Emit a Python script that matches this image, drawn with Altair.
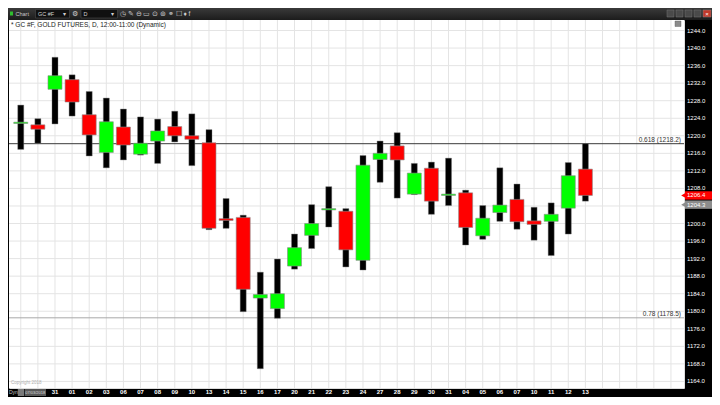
import altair as alt
import pandas as pd
import numpy as np

# ---------------- data ----------------
dates = ["27", "30", "31", "01", "02", "03", "06", "07", "08", "09", "10", "13",
         "14", "15", "16", "17", "20", "21", "22", "23", "24", "27", "28", "29",
         "30", "31", "04", "05", "06", "07", "10", "11", "12", "13"]
opens = [1222.8, 1222.5, 1230.6, 1232.8, 1224.8, 1216.2, 1222.0, 1215.8, 1218.8, 1222.1,
         1220.0, 1218.4, 1201.1, 1201.4, 1183.0, 1180.6, 1190.3, 1197.3, 1203.1, 1202.8,
         1191.6, 1214.6, 1217.7, 1206.7, 1212.6, 1206.4, 1207.0, 1197.2, 1202.5, 1205.5,
         1200.6, 1200.5, 1203.5, 1212.4]
highs = [1227.0, 1223.9, 1237.9, 1233.9, 1230.1, 1228.6, 1226.1, 1224.3, 1223.8, 1225.6,
         1225.0, 1221.4, 1205.7, 1201.9, 1188.9, 1191.9, 1197.6, 1204.3, 1208.4, 1203.4,
         1215.5, 1218.8, 1220.7, 1213.7, 1214.0, 1214.9, 1207.6, 1204.1, 1212.7, 1209.0,
         1203.7, 1204.7, 1213.9, 1218.2]
lows = [1216.9, 1218.3, 1222.7, 1224.5, 1215.4, 1212.7, 1214.5, 1215.6, 1213.7, 1218.6,
        1213.2, 1198.6, 1198.9, 1179.9, 1166.9, 1178.4, 1189.6, 1194.3, 1199.2, 1190.1,
        1189.4, 1209.4, 1205.8, 1206.6, 1202.1, 1204.1, 1195.1, 1196.4, 1200.5, 1198.7,
        1196.2, 1192.7, 1197.6, 1205.1]
closes = [1223.1, 1221.5, 1233.7, 1227.7, 1220.2, 1223.2, 1217.9, 1218.3, 1221.1, 1220.0,
          1219.2, 1198.9, 1200.7, 1185.0, 1183.8, 1184.0, 1194.5, 1200.0, 1203.4, 1194.0,
          1213.3, 1216.0, 1214.5, 1211.5, 1205.1, 1206.7, 1199.1, 1201.2, 1204.2, 1200.4,
          1199.8, 1202.1, 1210.9, 1206.4]

grid_steps = list(range(0, 39))
price_ticks = list(range(1164, 1245, 4))
price_tick_labels = [f"{p:.1f}" for p in price_ticks]
fib_levels = [1218.2, 1178.5]
fib_labels = ["0.618 (1218.2)", "0.78 (1178.5)"]
fib_colors = ["#3a3a3a", "#a8a8a8"]
tag_prices = [1204.3, 1206.4]
tag_texts = ["1204.3", "1206.4"]
tag_fills = ["#8c8c8c", "#ff0000"]
title_text = "* GC #F, GOLD FUTURES, D, 12:00-11:00 (Dynamic)"

W, H = 675, 368
FONT = "Liberation Sans"

df = pd.DataFrame({"i": range(len(dates)), "date": dates, "open": opens,
                   "high": highs, "low": lows, "close": closes})
df["dir"] = np.where(df["close"] >= df["open"], "up", "down")

xs = alt.Scale(domain=[-0.395, 38.47], nice=False, zero=False)
ys = alt.Scale(domain=[1162.5, 1246.4], nice=False, zero=False)

one = pd.DataFrame({"a": [0]})


def Y(field):
    return alt.Y(field, scale=ys, axis=None)


def box(x1, x2, y1, y2, fill, stroke=None, sw=0.0):
    kw = dict(fill=fill)
    if stroke is not None:
        kw.update(stroke=stroke, strokeWidth=sw)
    return alt.Chart(one).mark_rect(**kw).encode(
        x=alt.value(x1), x2=alt.value(x2), y=alt.value(y1), y2=alt.value(y2))


def label(x, y, text, size=6, color="white", align="left", weight="normal"):
    return alt.Chart(pd.DataFrame({"t": [text]})).mark_text(
        align=align, baseline="middle", fontSize=size, color=color,
        fontWeight=weight, font=FONT).encode(x=alt.value(x), y=alt.value(y), text="t:N")


# white plotting area
plot_bg = box(0, W, 0, H, "white")

# grid
vgrid = alt.Chart(pd.DataFrame({"g": grid_steps})).mark_rule(
    color="#e4e4e4", strokeWidth=1).encode(x=alt.X("g:Q", scale=xs, axis=None))
tick_df = pd.DataFrame({"p": price_ticks, "t": price_tick_labels})
hgrid = alt.Chart(tick_df).mark_rule(color="#e4e4e4", strokeWidth=1).encode(y=Y("p:Q"))
# right price-axis labels
ylabels = alt.Chart(tick_df).mark_text(
    align="left", baseline="middle", fontSize=6, color="white", font=FONT).encode(
    x=alt.value(W + 3), y=Y("p:Q"), text="t:N")

# fib lines
fib_df = pd.DataFrame({"p": fib_levels, "t": fib_labels, "c": fib_colors})
fib_rules = alt.Chart(fib_df).mark_rule(strokeWidth=1).encode(
    y=Y("p:Q"), color=alt.Color("c:N", scale=None))
fib_text = alt.Chart(fib_df).mark_text(
    align="right", baseline="bottom", dy=-0.5, fontSize=6.5, color="#333",
    font=FONT).encode(x=alt.value(W - 3), y=Y("p:Q"), text="t:N")

# candles
base = alt.Chart(df)
wicks = base.mark_bar(size=6, color="black", stroke="#777", strokeWidth=0.4).encode(
    x=alt.X("i:Q", scale=xs, axis=None), y=Y("low:Q"), y2="high:Q")
bodies = base.mark_bar(size=14, stroke="#8a8a8a", strokeWidth=0.6).encode(
    x=alt.X("i:Q", scale=xs, axis=None), y=Y("open:Q"), y2="close:Q",
    color=alt.Color("dir:N", scale=alt.Scale(domain=["up", "down"],
                                             range=["#00ff00", "#ff0000"]), legend=None))
# the first two date labels are hidden under the "Dyn" box in the reference
xlabels = base.transform_filter(alt.datum.i >= 2).mark_text(
    color="white", fontSize=6, fontWeight="bold", font=FONT, baseline="middle").encode(
    x=alt.X("i:Q", scale=xs, axis=None), y=alt.value(H + 4.3), text="date:N")

# price tags on the right axis
tag_df = pd.DataFrame({"p": tag_prices, "t": tag_texts, "f": tag_fills})
tag_df["lo"] = tag_df["p"] - 0.95
tag_df["hi"] = tag_df["p"] + 0.95
tag_rect = alt.Chart(tag_df).mark_rect().encode(
    x=alt.value(W + 1), x2=alt.value(W + 28), y=Y("lo:Q"), y2="hi:Q",
    color=alt.Color("f:N", scale=None))
tag_tri = alt.Chart(tag_df).mark_point(shape="triangle-left", filled=True, size=28,
                                       opacity=1).encode(
    x=alt.value(W - 0.5), y=Y("p:Q"), color=alt.Color("f:N", scale=None))
tag_txt = alt.Chart(tag_df).mark_text(align="left", baseline="middle", fontSize=6,
                                      color="white", font=FONT).encode(
    x=alt.value(W + 3), y=Y("p:Q"), text="t:N")

# window chrome
bar_fill = alt.Gradient(gradient="linear", x1=0, x2=0, y1=0, y2=1,
                        stops=[alt.GradientStop(color="#3a3a3a", offset=0),
                               alt.GradientStop(color="#1c1c1c", offset=1)])
title_bar = alt.Chart(one).mark_rect(fill=bar_fill).encode(
    x=alt.value(-1), x2=alt.value(W + 29), y=alt.value(-12), y2=alt.value(0))

chrome = [
    title_bar,
    box(1, 4, -8.5, -4.5, "#2fbf2f"),
    label(6.5, -6.3, "Chart", 5.5, "#c8c8c8"),
    box(26.5, 60.5, -10.5, -2, "#101010", "#555", 0.5),
    label(29, -6.3, "GC #F", 5.5, "#d0d0d0"),
    label(57, -6.3, "▾", 5.5, "#d0d0d0", "right"),
    label(66, -6.3, "⚙", 7, "#cfcfcf", "center"),
    box(72, 108.5, -10.5, -2, "#101010", "#555", 0.5),
    label(74.5, -6.3, "D", 5.5, "#d0d0d0"),
    label(105, -6.3, "▾", 5.5, "#d0d0d0", "right"),
    label(111, -6.3, "◷  ✎  ⊖  ▭  ⊙  ⊚  ⚭  ☐  ♦  f", 6.5, "#cfcfcf"),
    box(658, 665, -10, -3, "#4a4a4a", "#777", 0.5),
    box(667, 674, -10, -3, "#4a4a4a", "#777", 0.5),
    box(676, 683, -10, -3, "#4a4a4a", "#777", 0.5),
    box(685, 692, -10, -3, "#4a4a4a", "#777", 0.5),
    box(694, 702, -10, -3, "#c0392b", "#888", 0.5),
    label(698, -6.5, "×", 6, "white", "center"),
    box(666, 672, 1, 6.5, "#8a8a8a", "#555", 0.4),
    label(2, 4.5, title_text, 6.5, "#222"),
    label(2, 362.5, "Copyright 2018", 4.5, "#b0b0b0"),
]

bottom = [
    label(0, H + 4.3, "Dyn", 5, "#c8c8c8"),
    box(8.8, 15, H + 1, H + 8, "#7a7a7a"),
    box(15.6, 37, H + 1, H + 8, "#5a5a5a"),
    label(16.2, H + 4.5, "07/03/2018", 4, "#dddddd"),
]

chart = alt.layer(
    plot_bg, vgrid, hgrid, fib_rules, fib_text, wicks, bodies, xlabels, ylabels,
    *bottom, tag_rect, tag_tri, tag_txt, *chrome
).properties(
    width=W, height=H, background="black",
    padding={"left": 1, "top": 12, "right": 28, "bottom": 9},
    autosize=alt.AutoSizeParams(type="none"),
).configure_view(stroke=None).configure(font=FONT)

chart.save("out.html", embed_options={"renderer": "svg", "actions": False})
